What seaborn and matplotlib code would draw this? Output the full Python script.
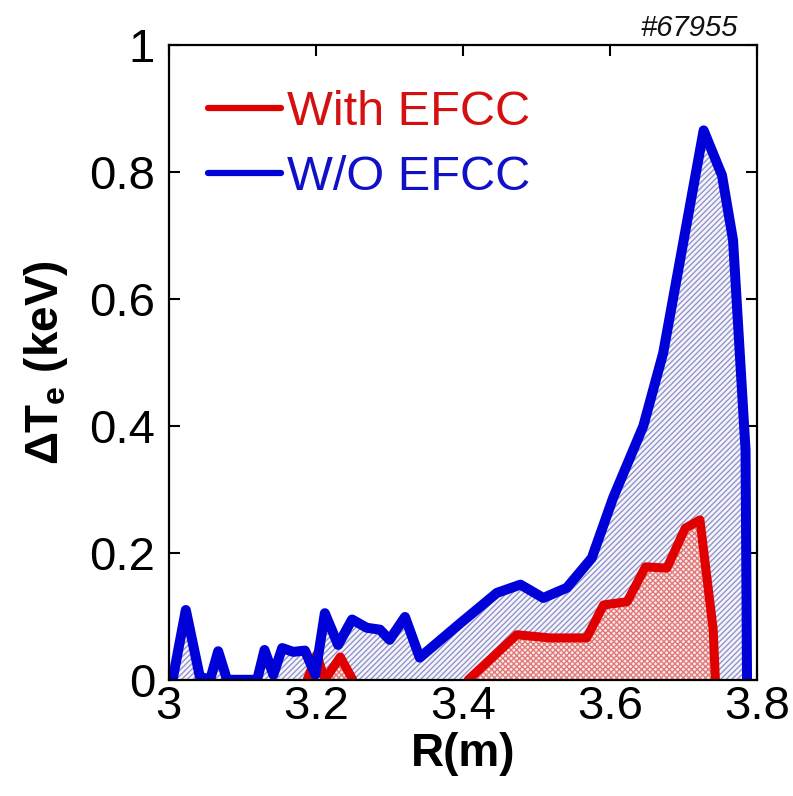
import numpy as np
import pandas as pd
import matplotlib
matplotlib.use("Agg")
import matplotlib.pyplot as plt
import seaborn as sns
from matplotlib.lines import Line2D

# ---- data ----
r_blue = [3.005, 3.023, 3.042, 3.056, 3.067, 3.079, 3.10, 3.12, 3.130, 3.142,
          3.154, 3.169, 3.185, 3.199, 3.212, 3.230, 3.249, 3.269, 3.287, 3.300,
          3.321, 3.341, 3.395, 3.446, 3.478, 3.509, 3.541, 3.575, 3.604, 3.645,
          3.672, 3.727, 3.752, 3.767, 3.784, 3.786]
te_blue = [0.0, 0.11, 0.005, 0.0, 0.045, 0.0, 0.0, 0.0, 0.047, 0.008,
           0.05, 0.044, 0.046, 0.008, 0.105, 0.055, 0.095, 0.082, 0.079, 0.063,
           0.099, 0.035, 0.088, 0.137, 0.15, 0.129, 0.145, 0.192, 0.287, 0.40,
           0.515, 0.866, 0.795, 0.693, 0.362, 0.0]

r_red_a = [3.188, 3.201, 3.212, 3.233, 3.25]
te_red_a = [0.0, 0.04, 0.0, 0.036, 0.0]

r_red_b = [3.407, 3.473, 3.518, 3.568, 3.591, 3.623, 3.648, 3.677, 3.702,
           3.722, 3.740, 3.743]
te_red_b = [0.0, 0.071, 0.066, 0.066, 0.118, 0.123, 0.178, 0.176, 0.239,
            0.252, 0.079, 0.0]

series_labels = ["With EFCC", "W/O EFCC"]
x_ticks = [3.0, 3.2, 3.4, 3.6, 3.8]
x_ticklabels = ["3", "3.2", "3.4", "3.6", "3.8"]
y_ticks = [0.0, 0.2, 0.4, 0.6, 0.8, 1.0]
y_ticklabels = ["0", "0.2", "0.4", "0.6", "0.8", "1"]
shot_label = "#67955"

RED = "#e00000"
BLUE = "#0000d8"

sns.set_theme(style="ticks")
plt.rcParams["font.family"] = ["Liberation Sans", "DejaVu Sans"]
plt.rcParams["text.color"] = "black"
plt.rcParams["axes.labelcolor"] = "black"
plt.rcParams["mathtext.fontset"] = "custom"
plt.rcParams["mathtext.rm"] = "Liberation Sans:bold"
plt.rcParams["mathtext.bf"] = "Liberation Sans:bold"
plt.rcParams["mathtext.it"] = "Liberation Sans:bold"
plt.rcParams["hatch.linewidth"] = 1.0

fig = plt.figure(figsize=(7.93, 7.96), dpi=100)
ax = fig.add_axes([0.213, 0.146, 0.742, 0.797])

df_blue = pd.DataFrame({"R": r_blue, "Te": te_blue})
df_red_a = pd.DataFrame({"R": r_red_a, "Te": te_red_a})
df_red_b = pd.DataFrame({"R": r_red_b, "Te": te_red_b})

# hatched fills
ax.fill_between(df_blue["R"], 0, df_blue["Te"], facecolor="#f5f5fc",
                edgecolor="#9494cc", hatch="//////", linewidth=0, zorder=1)
ax.fill_between(df_red_b["R"], 0, df_red_b["Te"], facecolor="#fdeaea",
                edgecolor="#e07a7a", hatch="xxxxxx", linewidth=0, zorder=2)
ax.fill_between(df_red_a["R"], 0, df_red_a["Te"], facecolor="#fdeaea",
                edgecolor="#e07a7a", hatch="xxxxxx", linewidth=0, zorder=2)

# lines
sns.lineplot(data=df_red_a, x="R", y="Te", ax=ax, color=RED, linewidth=6.5,
             estimator=None, sort=False, zorder=3)
sns.lineplot(data=df_red_b, x="R", y="Te", ax=ax, color=RED, linewidth=6.5,
             estimator=None, sort=False, zorder=3)
sns.lineplot(data=df_blue, x="R", y="Te", ax=ax, color=BLUE, linewidth=7.2,
             estimator=None, sort=False, zorder=4)

ax.set_xlim(3.0, 3.8)
ax.set_ylim(0.0, 1.0)
ax.set_xticks(x_ticks)
ax.set_xticklabels(x_ticklabels)
ax.set_yticks(y_ticks)
ax.set_yticklabels(y_ticklabels)

for sp in ax.spines.values():
    sp.set_visible(True)
    sp.set_linewidth(1.6)
    sp.set_color("black")
    sp.set_zorder(5)

ax.tick_params(axis="both", which="major", direction="in", length=8, width=1.5,
               top=True, right=True, labelsize=34, colors="black")
ax.tick_params(axis="x", pad=4)
ax.tick_params(axis="y", pad=10)

ax.set_xlabel("R(m)", fontsize=33, fontweight="bold", labelpad=2, color="black")
ax.set_ylabel(r"$\Delta T_e$ (keV)", fontsize=33, fontweight="bold",
              labelpad=14, color="black")

handles = [Line2D([], [], color=RED, linewidth=4.5),
           Line2D([], [], color=BLUE, linewidth=4.5)]
leg = ax.legend(handles, series_labels, loc="upper left",
                bbox_to_anchor=(0.034, 0.96), frameon=False, fontsize=35,
                handlelength=1.5, handletextpad=0.12, labelspacing=0.4,
                borderaxespad=0.0)
for txt, col in zip(leg.get_texts(), ["#d41010", "#1010c8"]):
    txt.set_color(col)

fig.text(0.931, 0.965, shot_label, ha="right", va="center", fontsize=21,
         style="italic", color="#111111")

fig.savefig("out.png", dpi=100)
